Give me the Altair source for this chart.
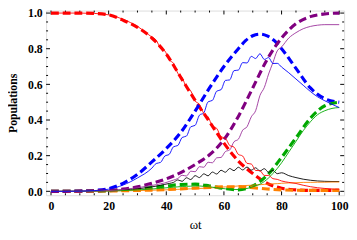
import altair as alt
import pandas as pd

# ---- data ----
T_DASH = [0, 5, 10, 15, 20, 25, 30, 35, 40, 45, 50, 55, 60, 65, 70, 75, 80, 85, 90, 95, 100]
RED_D = [1.0, 1.0, 1.0, 0.998, 0.99, 0.96, 0.92, 0.86, 0.77, 0.64, 0.51, 0.39, 0.27, 0.17, 0.10, 0.045, 0.017, 0.008, 0.005, 0.005, 0.005]
PURPLE_D = [0, 0, 0.001, 0.003, 0.006, 0.012, 0.025, 0.045, 0.07, 0.105, 0.15, 0.205, 0.29, 0.42, 0.58, 0.74, 0.86, 0.94, 0.98, 0.995, 1.0]
GREEN_D = [0, 0, 0, 0.001, 0.003, 0.008, 0.014, 0.022, 0.03, 0.038, 0.04, 0.03, 0.016, 0.008, 0.03, 0.09, 0.19, 0.30, 0.41, 0.48, 0.50]
ORANGE_D = [0, 0, 0, 0.001, 0.002, 0.003, 0.005, 0.007, 0.01, 0.014, 0.018, 0.022, 0.025, 0.026, 0.02, 0.013, 0.008, 0.006, 0.005, 0.005, 0.005]

T_BLUE_D = [0, 5, 10, 15, 20, 25, 30, 35, 40, 45, 50, 55, 60, 65, 67.5, 70, 72.5, 75, 77.5, 80, 85, 90, 95, 100]
BLUE_D = [0, 0, 0.002, 0.005, 0.015, 0.045, 0.095, 0.165, 0.24, 0.33, 0.45, 0.58, 0.70, 0.80, 0.845, 0.873, 0.882, 0.872, 0.845, 0.80, 0.69, 0.58, 0.52, 0.50]

T_THIN = [0, 5, 10, 15, 20, 25, 30, 35,
          36.5, 38, 39.5, 41, 42.5, 44, 45.5, 47, 48.5, 50,
          51.5, 53, 54.5, 56, 57.5, 59, 60.5, 62, 63.5, 65,
          66.5, 68, 69.5, 71, 72.5, 74, 75.5, 77, 78.5, 80,
          82.5, 85, 87.5, 90, 92.5, 95, 97.5, 100]
RED_T = [1.0, 1.0, 1.0, 0.998, 0.99, 0.965, 0.925, 0.865,
         0.848, 0.802, 0.788, 0.737, 0.718, 0.662, 0.638, 0.582, 0.563, 0.507,
         0.488, 0.437, 0.418, 0.367, 0.353, 0.307, 0.298, 0.257, 0.248, 0.207,
         0.198, 0.157, 0.153, 0.117, 0.116, 0.089, 0.089, 0.071, 0.067, 0.058,
         0.05, 0.044, 0.034, 0.026, 0.02, 0.016, 0.013, 0.012]
BLUE_T = [0, 0, 0.001, 0.004, 0.012, 0.035, 0.075, 0.13,
          0.156, 0.162, 0.198, 0.207, 0.25, 0.257, 0.302, 0.31, 0.362, 0.37,
          0.427, 0.44, 0.502, 0.51, 0.562, 0.57, 0.622, 0.625, 0.677, 0.68,
          0.722, 0.72, 0.757, 0.745, 0.772, 0.74, 0.75, 0.717, 0.718, 0.697,
          0.665, 0.63, 0.595, 0.56, 0.53, 0.508, 0.488, 0.47]
PURPLE_T = [0, 0, 0.001, 0.002, 0.004, 0.01, 0.02, 0.033,
            0.037, 0.042, 0.047, 0.055, 0.063, 0.072, 0.09, 0.086, 0.113, 0.11,
            0.138, 0.135, 0.163, 0.16, 0.188, 0.19, 0.223, 0.232, 0.278, 0.292,
            0.343, 0.362, 0.418, 0.452, 0.538, 0.582, 0.658, 0.722, 0.788, 0.81,
            0.86, 0.89, 0.912, 0.925, 0.932, 0.935, 0.935, 0.935]
GREEN_T = [0, 0, 0, 0.001, 0.002, 0.004, 0.008, 0.013,
           0.015, 0.017, 0.019, 0.021, 0.023, 0.025, 0.027, 0.028, 0.029, 0.03,
           0.03, 0.028, 0.026, 0.023, 0.02, 0.017, 0.014, 0.012, 0.01, 0.01,
           0.012, 0.016, 0.022, 0.03, 0.04, 0.055, 0.075, 0.1, 0.128, 0.16,
           0.22, 0.28, 0.34, 0.39, 0.43, 0.452, 0.465, 0.47]
ORANGE_T = [0, 0, 0, 0.001, 0.002, 0.003, 0.004, 0.006,
            0.007, 0.008, 0.008, 0.009, 0.01, 0.011, 0.012, 0.013, 0.014, 0.015,
            0.016, 0.017, 0.019, 0.02, 0.021, 0.023, 0.025, 0.027, 0.028, 0.03,
            0.031, 0.033, 0.034, 0.036, 0.037, 0.039, 0.04, 0.042, 0.043, 0.045,
            0.047, 0.048, 0.05, 0.05, 0.051, 0.051, 0.052, 0.052]
BLACK_T = [0, 0, 0.001, 0.002, 0.004, 0.008, 0.014, 0.025,
           0.029, 0.034, 0.039, 0.044, 0.05, 0.064, 0.056, 0.076, 0.066, 0.088,
           0.077, 0.098, 0.087, 0.108, 0.097, 0.118, 0.107, 0.128, 0.116, 0.135,
           0.12, 0.136, 0.119, 0.132, 0.114, 0.127, 0.107, 0.117, 0.099, 0.104,
           0.088, 0.077, 0.068, 0.062, 0.058, 0.056, 0.055, 0.055]

X_MAJOR = [0, 20, 40, 60, 80, 100]
X_MINOR = [5, 10, 15, 25, 30, 35, 45, 50, 55, 65, 70, 75, 85, 90, 95]
Y_MAJOR = [0.0, 0.2, 0.4, 0.6, 0.8, 1.0]
Y_MINOR = [0.05, 0.1, 0.15, 0.25, 0.3, 0.35, 0.45, 0.5, 0.55, 0.65, 0.7, 0.75, 0.85, 0.9, 0.95]

W, H = 305, 189
FONT = "Liberation Serif"

xs = alt.Scale(domain=[-1.7, 101.7], nice=False, zero=False)
ys = alt.Scale(domain=[-0.022, 1.014], nice=False, zero=False)

X_AXIS = alt.Axis(values=X_MAJOR, format="d", ticks=False, domain=False, grid=False,
                  labelFont=FONT, labelFontWeight="bold", labelFontSize=12,
                  labelPadding=6, labelColor="black",
                  titleFont=FONT, titleFontWeight="normal", titleFontSize=13,
                  titlePadding=7, titleColor="black")
Y_AXIS = alt.Axis(values=Y_MAJOR, format=".1f", ticks=False, domain=False, grid=False,
                  labelFont=FONT, labelFontWeight="bold", labelFontSize=12,
                  labelPadding=4, labelColor="black",
                  titleFont=FONT, titleFontWeight="bold", titleFontSize=12,
                  titlePadding=8, titleColor="black")


def XE():
    return alt.X("t:Q", scale=xs, title="ωt", axis=X_AXIS)


def YE():
    return alt.Y("p:Q", scale=ys, title="Populations", axis=Y_AXIS)


def line(t, v, color, dashed):
    df = pd.DataFrame({"t": t, "p": v})
    if dashed:
        m = alt.Chart(df).mark_line(color=color, strokeWidth=3.2, strokeDash=[8, 4],
                                    interpolate="monotone", clip=True)
    else:
        m = alt.Chart(df).mark_line(color=color, strokeWidth=0.9,
                                    interpolate="monotone", clip=True)
    return m.encode(x=XE(), y=YE())


def xticks(vals, length):
    df = pd.DataFrame({"t": vals})
    b = alt.Chart(df).mark_rule(color="black", strokeWidth=1).encode(
        x=XE(), y=alt.value(H), y2=alt.value(H - length))
    tp = alt.Chart(df).mark_rule(color="black", strokeWidth=1).encode(
        x=XE(), y=alt.value(0), y2=alt.value(length))
    return [b, tp]


def yticks(vals, length):
    df = pd.DataFrame({"p": vals})
    l = alt.Chart(df).mark_rule(color="black", strokeWidth=1).encode(
        y=YE(), x=alt.value(0), x2=alt.value(length))
    r = alt.Chart(df).mark_rule(color="black", strokeWidth=1).encode(
        y=YE(), x=alt.value(W), x2=alt.value(W - length))
    return [l, r]


layers = []
layers += xticks(X_MAJOR, 4) + xticks(X_MINOR, 2) + yticks(Y_MAJOR, 4) + yticks(Y_MINOR, 2)
layers += [
    line(T_DASH, RED_D, "#ff0000", True),
    line(T_BLUE_D, BLUE_D, "#0000ff", True),
    line(T_DASH, GREEN_D, "#00a800", True),
    line(T_DASH, ORANGE_D, "#ff8000", True),
    line(T_DASH, PURPLE_D, "#800080", True),
    line(T_THIN, BLACK_T, "#000000", False),
    line(T_THIN, ORANGE_T, "#ff8000", False),
    line(T_THIN, GREEN_T, "#00a800", False),
    line(T_THIN, PURPLE_T, "#9a309a", False),
    line(T_THIN, BLUE_T, "#0000ff", False),
    line(T_THIN, RED_T, "#ff0000", False),
]

chart = alt.layer(*layers).properties(
    width=W, height=H,
    autosize=alt.AutoSizeParams(type="none"),
    padding={"left": 39, "top": 0, "right": 5, "bottom": 35},
).configure_view(stroke="black", strokeWidth=1.6).configure(background="white")

chart.save("out.html", embed_options={"renderer": "svg", "actions": False})
